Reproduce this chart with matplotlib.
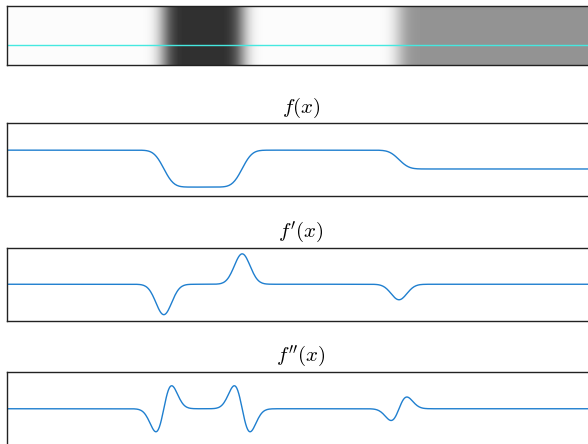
import numpy as np
import matplotlib
matplotlib.use("Agg")
import matplotlib.pyplot as plt

plt.rcParams['mathtext.fontset'] = 'cm'

# underlying 1-D intensity profile: flat levels separated by edges (pixel columns)
img_width = 600
img_height = 60
edges = [160, 240, 400]
levels = [252, 48, 252, 148]
blur_sigma = 8.0
scan_row = 39

# step profile, then gaussian blur
x = np.arange(img_width)
step = np.full(img_width, float(levels[0]))
for e, lv in zip(edges, levels[1:]):
    step[x >= e] = lv
k = np.arange(-40, 41)
kernel = np.exp(-k**2 / (2 * blur_sigma**2))
kernel /= kernel.sum()
padded = np.pad(step, 40, mode='edge')
f = np.convolve(padded, kernel, mode='same')[40:-40]
df = np.gradient(f)
d2f = np.gradient(df)

image = np.tile(f, (img_height, 1))

fig = plt.figure(figsize=(5.88, 4.44), dpi=100)
W, H = 588.0, 444.0


def box(top, bottom, left=7, right=595):
    return [left / W, (H - bottom) / H, (right - left) / W, (bottom - top) / H]


line_color = '#1f7fcf'

ax0 = fig.add_axes(box(6, 65))
ax0.imshow(image, cmap='gray', vmin=0, vmax=255, aspect='auto',
           interpolation='nearest')
ax0.axhline(scan_row, color='#45e8e0', lw=1.0)

ax1 = fig.add_axes(box(123, 196.5))
ax1.plot(x, f, color=line_color, lw=1.0)
ax1.set_ylim(-4, 402)
ax1.set_title(r'$f(x)$', fontsize=15, pad=7.5)

ax2 = fig.add_axes(box(247.5, 321))
ax2.plot(x, df, color=line_color, lw=1.0)
m = np.abs(df).max() * 1.21
ax2.set_ylim(-m, m)
ax2.set_title(r"$f'(x)$", fontsize=15, pad=7.5)

ax3 = fig.add_axes(box(372, 445.5))
ax3.plot(x, d2f, color=line_color, lw=1.0)
m = np.abs(d2f).max() * 1.6
ax3.set_ylim(-m, m)
ax3.set_title(r"$f''(x)$", fontsize=15, pad=7.5)

for ax in (ax0, ax1, ax2, ax3):
    ax.set_xlim(-0.5, img_width - 0.5)
    ax.set_xticks([])
    ax.set_yticks([])
    for s in ax.spines.values():
        s.set_color('#222222')
        s.set_linewidth(1.0)

fig.savefig('out.png', dpi=100)
